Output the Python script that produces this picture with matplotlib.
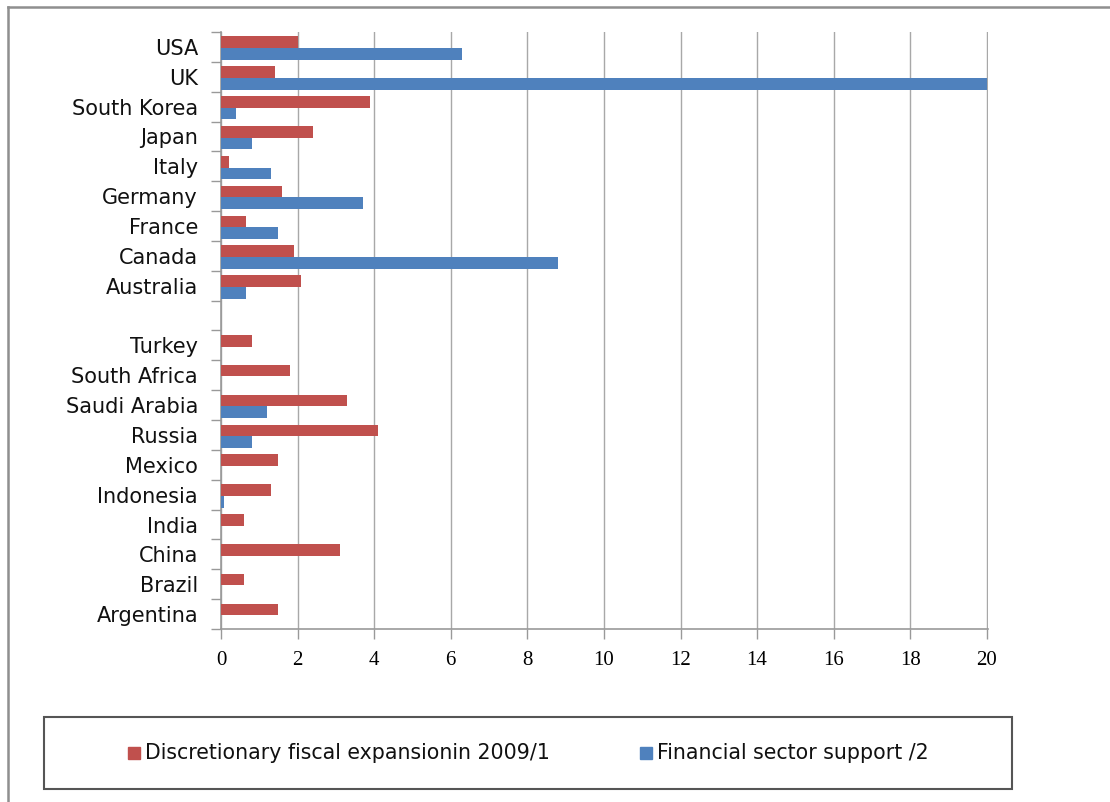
import numpy as np
import matplotlib.pyplot as plt
import matplotlib.transforms as mtransforms
from matplotlib.lines import Line2D
from matplotlib.patches import Rectangle

# countries listed top to bottom; the empty entry separates the two groups
countries = ['USA', 'UK', 'South Korea', 'Japan', 'Italy', 'Germany', 'France',
             'Canada', 'Australia', '', 'Turkey', 'South Africa', 'Saudi Arabia',
             'Russia', 'Mexico', 'Indonesia', 'India', 'China', 'Brazil', 'Argentina']
fiscal = [2.0, 1.4, 3.9, 2.4, 0.2, 1.6, 0.65, 1.9, 2.1, np.nan,
          0.8, 1.8, 3.3, 4.1, 1.5, 1.3, 0.6, 3.1, 0.6, 1.5]
financial = [6.3, 20.0, 0.4, 0.8, 1.3, 3.7, 1.5, 8.8, 0.65, np.nan,
             0, 0, 1.2, 0.8, 0, 0.07, 0, 0, 0, 0]
series_names = ['Discretionary fiscal expansionin 2009/1', 'Financial sector support /2']
colors = ['#C0504D', '#4F81BD']
xticks = list(range(0, 21, 2))

fig = plt.figure(figsize=(11.1, 8.02), dpi=100)
ax = fig.add_axes([221 / 1110, 1 - 629 / 802, 767 / 1110, 597 / 802])

y = np.arange(len(countries))
h = 0.39
ax.barh(y - h / 2 + 0.04, fiscal, height=h, color=colors[0], zorder=3)
ax.barh(y + h / 2 + 0.04, financial, height=h, color=colors[1], zorder=3)

ax.set_ylim(len(countries) - 0.5, -0.5)
ax.set_xlim(0, 20.03)

# category labels at centres, tick marks at the boundaries
ax.set_yticks(y)
ax.set_yticklabels(countries, fontsize=15, fontfamily='DejaVu Sans', color='#111111')
nudge = mtransforms.ScaledTranslation(0, 2.5 / 100, fig.dpi_scale_trans)
for lab in ax.get_yticklabels():
    lab.set_transform(lab.get_transform() + nudge)
ax.set_yticks(np.arange(-0.5, len(countries)), minor=True)
ax.tick_params(axis='y', which='major', length=0, pad=16.5)
ax.tick_params(axis='y', which='minor', length=7, width=1, color='#999999')

ax.set_xticks(xticks)
ax.set_xticklabels([str(t) for t in xticks], fontsize=15, fontfamily='Liberation Serif')
ax.tick_params(axis='x', length=7, width=1, color='#999999', pad=9)

ax.grid(axis='x', color='#a8a8a8', linewidth=1.0, zorder=0)
for s in ['top', 'right']:
    ax.spines[s].set_visible(False)
for s in ['left', 'bottom']:
    ax.spines[s].set_color('#999999')
    ax.spines[s].set_linewidth(1.2)

# legend in its own framed box below the plot
fig.patches.append(Rectangle((44 / 1110, 1 - 789 / 802), 968 / 1110, 72 / 802,
                             transform=fig.transFigure, fill=False,
                             edgecolor='#555555', linewidth=1.5))
ly = 1 - 753 / 802
for x0, name, c in [(128, series_names[0], colors[0]), (640, series_names[1], colors[1])]:
    fig.patches.append(Rectangle((x0 / 1110, ly - 6 / 802), 12 / 1110, 12 / 802,
                                 transform=fig.transFigure, color=c))
    fig.text((x0 + 17) / 1110, ly, name, fontsize=14.8, va='center', ha='left',
             fontfamily='DejaVu Sans', color='#111111')

# outer chart frame (top and left edges)
fig.add_artist(Line2D([8 / 1110, 1], [1 - 7 / 802, 1 - 7 / 802], transform=fig.transFigure,
                      color='#8f8f8f', linewidth=1.8))
fig.add_artist(Line2D([8 / 1110, 8 / 1110], [0, 1 - 7 / 802], transform=fig.transFigure,
                      color='#8f8f8f', linewidth=1.8))

fig.savefig('out.png', dpi=100)
